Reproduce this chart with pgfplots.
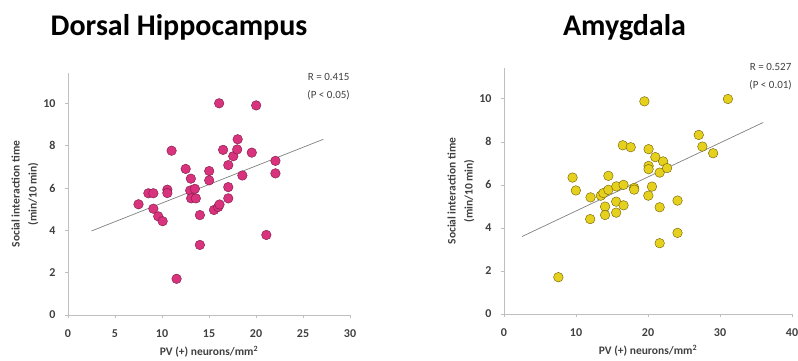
\documentclass[border=0pt]{standalone}
\usepackage{pgfplots}
\pgfplotsset{compat=1.18}
\usepackage{fontspec}
\setmainfont{Carlito}
\definecolor{axisgray}{HTML}{BFBFBF}
\definecolor{txtgray}{HTML}{404040}
\definecolor{pinkfill}{HTML}{D8337C}
\definecolor{pinkedge}{HTML}{7A1A45}
\definecolor{yelfill}{HTML}{E6D01E}
\definecolor{yeledge}{HTML}{6E5E00}
\definecolor{fitgray}{HTML}{808080}
\pgfplotsset{
  myax/.style={
    scale only axis, clip=false,
    ymin=0, ymax=11.43, ytick={0,2,...,10},
    axis x line*=bottom, axis y line*=left,
    axis line style={draw=axisgray, line width=0.8pt, -},
    tick style={draw=axisgray, line width=0.6pt},
    tick align=outside, major tick length=3pt,
    /pgf/number format/assume math mode=true,
    tick label style={font=\bfseries\fontsize{12}{12}\selectfont, text=txtgray},
    yticklabel style={xshift=-6pt},
    xticklabel style={yshift=-8pt},
    label style={font=\bfseries\fontsize{11.5}{17}\selectfont, text=txtgray},
    xlabel={PV (+) neurons/mm\textsuperscript{2}},
    xlabel style={at={(axis description cs:0.5,0)}, anchor=center, yshift=-37pt},
    ylabel={Social interaction time\\(min/10 min)},
    ylabel style={at={(axis description cs:0,0.5)}, anchor=center, align=center, rotate=0, yshift=43pt},
  },
  dots/.style={only marks, mark=*, mark size=4.8pt, mark options={line width=0.6pt}},
}
\begin{document}
\begin{tikzpicture}
\path[use as bounding box] (0,0) rectangle (798pt,-360pt);
\node[anchor=base, font=\bfseries\fontsize{30}{32}\selectfont] at (179pt,-35pt) {Dorsal Hippocampus};
\node[anchor=base, font=\bfseries\fontsize{30}{32}\selectfont] at (624.5pt,-35pt) {Amygdala};
\begin{axis}[myax, at={(68pt,-315pt)}, anchor=south west,
  width=282pt, height=242pt, xmin=0, xmax=30, xtick={0,5,...,30}]
\addplot[fitgray, line width=0.7pt] coordinates {(2.5,3.97) (27.16,8.3)};
\addplot[dots, mark options={fill=pinkfill, draw=pinkedge}] coordinates {
(7.5,5.23) (8.55,5.75) (9.08,5.75) (9.08,5.02) (9.6,4.66) (10.07,4.43)
(10.57,5.92) (10.57,5.76) (11.02,7.76) (11.55,1.71) (12.52,6.9) (13.07,6.44)
(13.0,5.88) (13.5,5.96) (13.1,5.51) (13.6,5.51) (14.03,4.72) (14.03,3.31)
(15.02,6.8) (15.02,6.36) (15.53,4.96) (15.98,5.1) (16.12,5.22) (16.08,10.0)
(16.5,7.8) (17.05,7.08) (17.05,6.04) (17.05,5.51) (17.58,7.5) (18.0,7.82)
(18.05,8.3) (18.55,6.59) (19.55,7.67) (20.02,9.9) (21.1,3.78) (22.07,7.28)
(22.07,6.69)};
\node[anchor=north east, align=center, font=\fontsize{11}{18}\selectfont, text=txtgray, inner sep=0pt]
  at (rel axis cs:1.0,1.0) {R = 0.415\\(P < 0.05)};
\end{axis}
\begin{axis}[myax, at={(504pt,-314pt)}, anchor=south west,
  width=288pt, height=246pt, xmin=0, xmax=40, xtick={0,10,...,40}]
\addplot[fitgray, line width=0.7pt] coordinates {(2.5,3.6) (36.0,8.9)};
\addplot[dots, mark options={fill=yelfill, draw=yeledge}] coordinates {
(7.55,1.71) (9.52,6.34) (9.98,5.74) (12.02,5.42) (11.97,4.41) (13.45,5.5)
(13.8,5.62) (14.5,6.42) (14.5,5.77) (14.04,4.99) (14.04,4.6) (15.6,5.93)
(15.58,5.22) (15.58,4.71) (16.6,6.0) (16.6,5.05) (16.5,7.84) (17.6,7.75)
(18.08,5.86) (18.08,5.78) (19.5,9.88) (20.08,7.66) (20.08,6.88) (20.08,6.73)
(20.05,5.5) (20.55,5.92) (21.02,7.29) (21.62,6.57) (21.62,4.96) (21.62,3.29)
(22.1,7.09) (22.65,6.78) (24.1,5.27) (24.1,3.77) (27.05,8.32) (27.55,7.78)
(29.05,7.47) (31.1,9.99)};
\node[anchor=north east, align=center, font=\fontsize{11}{18}\selectfont, text=txtgray, inner sep=0pt]
  at (rel axis cs:1.0,1.02) {R = 0.527\\(P < 0.01)};
\end{axis}
\end{tikzpicture}
\end{document}
